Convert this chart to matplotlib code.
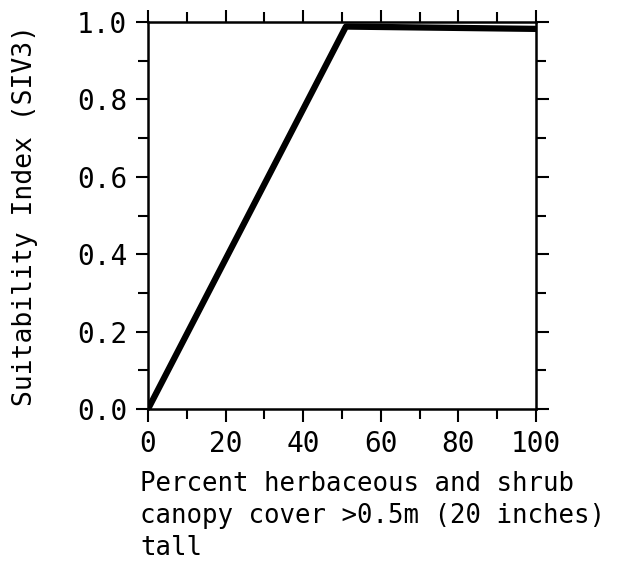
import matplotlib.pyplot as plt
from matplotlib.ticker import MultipleLocator

# curve
cover = [0, 51, 100]
siv3 = [0, 0.988, 0.982]

xticks = [0, 20, 40, 60, 80, 100]
yticks = [0.0, 0.2, 0.4, 0.6, 0.8, 1.0]

plt.rcParams['font.family'] = 'DejaVu Sans Mono'

fig = plt.figure(figsize=(6.27, 5.62), dpi=100)
ax = fig.add_axes([0.236, 0.272, 0.619, 0.689])

ax.plot(cover, siv3, color='black', linewidth=4.5, solid_capstyle='butt')

ax.set_xlim(0, 100)
ax.set_ylim(0, 1.0)
ax.set_xticks(xticks)
ax.set_xticklabels([str(v) for v in xticks])
ax.set_yticks(yticks)
ax.set_yticklabels(['%.1f' % v for v in yticks])
ax.xaxis.set_minor_locator(MultipleLocator(10))
ax.yaxis.set_minor_locator(MultipleLocator(0.1))

ax.tick_params(which='both', direction='out', top=True, right=True,
               width=1.5, labelsize=20, pad=6)
ax.tick_params(which='major', length=9)
ax.tick_params(which='minor', length=7)
ax.tick_params(axis='x', which='both', labeltop=False)

for s in ax.spines.values():
    s.set_linewidth(1.8)

ax.set_ylabel('Suitability Index (SIV3)', fontsize=19, labelpad=28)

fig.text(0.224, 0.162, 'Percent herbaceous and shrub\ncanopy cover >0.5m (20 inches)\ntall',
         fontsize=18.5, ha='left', va='top', linespacing=1.3)

fig.savefig('out.png', dpi=100)
